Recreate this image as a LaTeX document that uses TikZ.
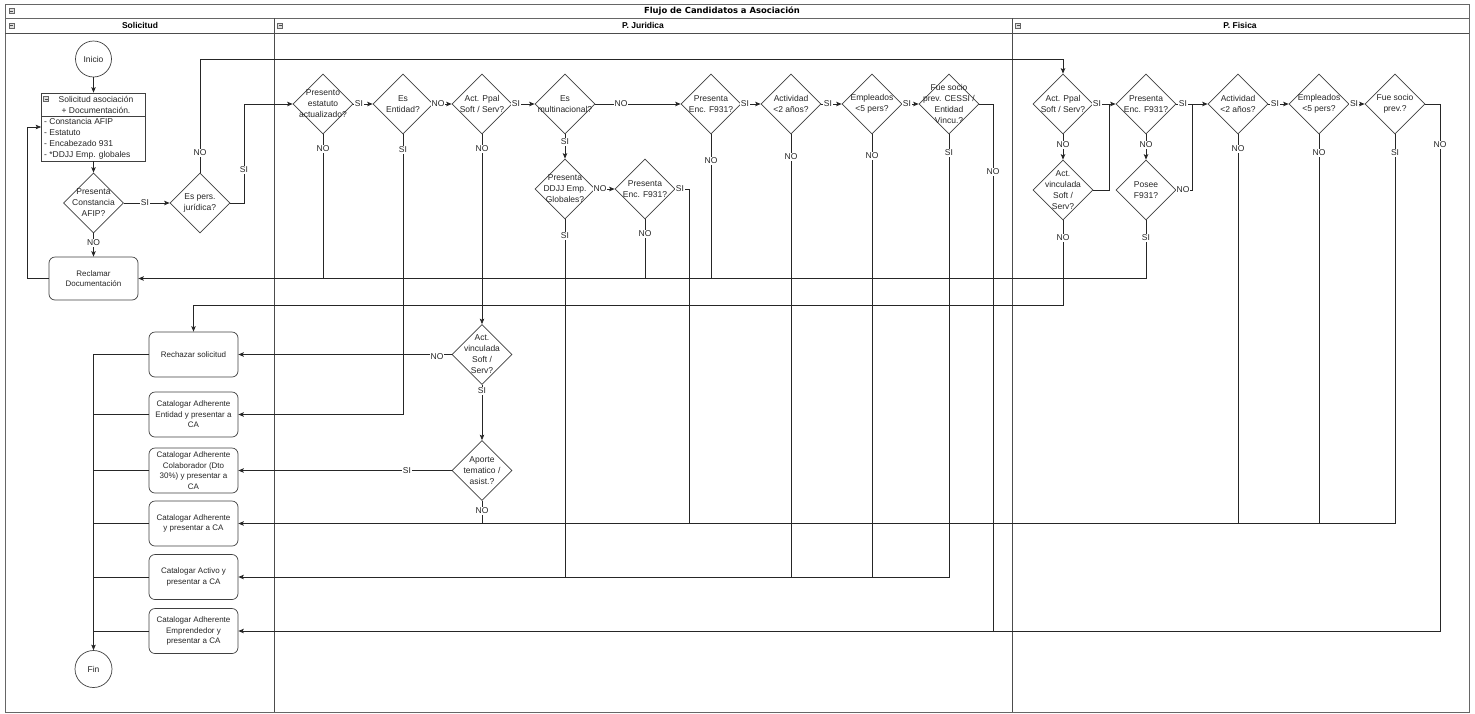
\documentclass[tikz,border=0pt]{standalone}
\usepackage{fontspec}
\setmainfont{Liberation Sans}
\newfontfamily\titlefont{DejaVu Sans}
\usetikzlibrary{shapes.geometric,arrows.meta,calc}
\tikzset{
 lane/.style={draw=black!70, line width=0.8pt},
 conn/.style={draw=black!85, line width=0.75pt},
 arr/.style={conn, -{Stealth[length=5.5pt,width=4.5pt,inset=1.2pt]}},
 dia/.style={draw=black!75, line width=0.7pt, diamond, minimum width=60pt, minimum height=60pt, inner sep=0pt, fill=white},
 dtx/.style={align=center, font=\fontsize{8.5}{11}\selectfont, inner sep=0pt, text=black!85},
 box/.style={draw=black!75, line width=0.7pt, rounded corners=6pt, minimum width=89pt, minimum height=45pt, align=center, font=\fontsize{8}{10.5}\selectfont, inner sep=1pt, fill=white, text=black!85},
 circ/.style={draw=black!75, line width=0.7pt, circle, minimum size=36pt, inner sep=0pt, font=\fontsize{8.5}{11}\selectfont, fill=white, text=black!85},
 lbl/.style={fill=white, inner sep=0.6pt, font=\fontsize{8.5}{10}\selectfont, text=black!85},
 hdr/.style={font=\fontsize{8.5}{10}\selectfont\bfseries, inner sep=0pt},
 mini/.style={draw=black!60, fill=black!12, minimum size=5pt, inner sep=0pt, line width=0.4pt,
   path picture={\draw[black!70, line width=0.5pt] ([xshift=1pt]path picture bounding box.west) -- ([xshift=-1pt]path picture bounding box.east);}},
}
\newcommand\Dia[3]{\node[dia] (#1) at (#2) {}; \node[dtx] (#1t) at (#1) {#3};}
\newcommand\Lbl[3]{\node[lbl] (#1) at (#2) {#3};}
\begin{document}
\begin{tikzpicture}[x=1pt,y=-1pt]
\useasboundingbox (0,0) rectangle (1475,713);
% ---------- pool and lanes ----------
\draw[lane, draw=black!60, line width=1pt] (5,4) rectangle (1469,712);
\draw[lane, draw=black!60] (5,18) -- (1469,18);
\draw[lane] (5,33) -- (1469,33);
\draw[lane] (274,18) -- (274,712);
\draw[lane] (1012,18) -- (1012,712);
\node[font=\titlefont\fontsize{8.4}{10}\selectfont\bfseries, inner sep=0pt] (title) at (722,11) {Flujo de Candidatos a Asociación};
\node[hdr] (h1) at (140,25.5) {Solicitud};
\node[hdr] (h2) at (643,25.5) {P. Juridica};
\node[hdr] (h3) at (1240,25.5) {P. Fisica};
\node[mini] (m0) at (11.5,11) {};
\node[mini] (m1) at (11.5,25.5) {};
\node[mini] (m2) at (280,25.5) {};
\node[mini] (m3) at (1018,25.5) {};
% ---------- Solicitud lane ----------
\node[circ] (ini) at (93.5,59) {Inicio};
\node[draw=black!75, line width=0.7pt, minimum width=104pt, minimum height=68pt, inner sep=0pt] (sol) at (93.5,127) {};
\draw[black!75, line width=0.7pt] (41.5,116) -- (145.5,116);
\node[mini] (m4) at (46,99) {};
\node[dtx, font=\fontsize{8.5}{11}\selectfont] (solh) at (96,104.5) {Solicitud asociación\\+ Documentación.};
\node[dtx, align=left, anchor=west] (soli) at (44,139) {- Constancia AFIP\\- Estatuto\\- Encabezado 931\\- *DDJJ Emp. globales};
\Dia{dafip}{93.5,203}{Presenta\\Constancia\\AFIP?}
\Dia{dpers}{200,203}{Es pers.\\jurídica?}
\node[box, minimum height=43pt] (recl) at (93.5,278.5) {Reclamar\\Documentación};
\node[box] (rech) at (193.5,354.5) {Rechazar solicitud};
\node[box] (ent) at (193.5,414.5) {Catalogar Adherente\\Entidad y presentar a\\CA};
\node[box] (col) at (193.5,470.5) {Catalogar Adherente\\Colaborador (Dto\\30\%) y presentar a\\CA};
\node[box] (adh) at (193.5,523.5) {Catalogar Adherente\\y presentar a CA};
\node[box] (act) at (193.5,577) {Catalogar Activo y\\presentar a CA};
\node[box] (emp) at (193.5,631) {Catalogar Adherente\\Emprendedor y\\presentar a CA};
\node[circ, minimum size=37pt] (fin) at (93.5,669) {Fin};
% ---------- P. Juridica lane ----------
\Dia{d1}{323,104}{Presento\\estatuto\\actualizado?}
\Dia{d2}{403,104}{Es\\Entidad?}
\Dia{d3}{482,104}{Act. Ppal\\Soft / Serv?}
\Dia{d4}{565,104}{Es\\multinacional?}
\Dia{d5}{711,104}{Presenta\\Enc. F931?}
\Dia{d6}{791,104}{Actividad\\<2 años?}
\Dia{d7}{872,104}{Empleados\\<5 pers?}
\Dia{d8}{949,104}{Fue socio\\prev. CESSI /\\Entidad\\Vincu.?}
\Dia{d9}{565,189}{Presenta\\DDJJ Emp.\\Globales?}
\Dia{d10}{645,189}{Presenta\\Enc. F931?}
\Dia{d11}{482,354.5}{Act.\\vinculada\\Soft /\\Serv?}
\Dia{d12}{482,470.5}{Aporte\\tematico /\\asist.?}
% ---------- P. Fisica lane ----------
\Dia{f1}{1063,104}{Act. Ppal\\Soft / Serv?}
\Dia{f1b}{1063,190}{Act.\\vinculada\\Soft /\\Serv?}
\Dia{f2}{1146,104}{Presenta\\Enc. F931?}
\Dia{f2b}{1146,190}{Posee\\F931?}
\Dia{f3}{1238,104}{Actividad\\<2 años?}
\Dia{f4}{1319,104}{Empleados\\<5 pers?}
\Dia{f5}{1395,104}{Fue socio\\prev.?}
% ---------- bend points ----------
\coordinate (lp) at (27,127);
\coordinate (tp) at (200,59);
\coordinate (sp) at (244,104);
\coordinate (d10r) at (689,189);
\coordinate (d8r) at (993,104);
\coordinate (f5r) at (1440,104);
\coordinate (fj1) at (1109,104);
\coordinate (fj2) at (1192,104);
\coordinate (fr) at (1063,305);
% ---------- connectors ----------
\draw[arr] (ini) -- (sol);
\draw[arr] (sol) -- (dafip);
\draw[arr] (dafip) -- (dpers);
\draw[arr] (dafip) -- (recl);
\draw[arr] (recl.west) -| (lp) -- (sol.west);
\draw[arr] (dpers.north) -- (tp) -| (f1.north);
\draw[arr] (dpers.east) -| (sp) -- (d1.west);
\draw[arr] (d1) -- (d2);
\draw[arr] (d2) -- (d3);
\draw[arr] (d3) -- (d4);
\draw[arr] (d4) -- (d5);
\draw[arr] (d5) -- (d6);
\draw[arr] (d6) -- (d7);
\draw[arr] (d7) -- (d8);
\draw[conn] (d1.south) -- (d1.south |- recl.east);
\draw[arr] (d2.south) |- (ent.east);
\draw[arr] (d3) -- (d11);
\draw[arr] (d4) -- (d9);
\draw[arr] (d9) -- (d10);
\draw[conn] (d9.south) -- (d9.south |- act.east);
\draw[conn] (d10.south) -- (d10.south |- recl.east);
\draw[conn] (d10.east) -- (d10r) -- (d10r |- adh.east);
\draw[conn] (d5.south) -- (d5.south |- recl.east);
\draw[conn] (d6.south) -- (d6.south |- act.east);
\draw[conn] (d7.south) -- (d7.south |- act.east);
\draw[arr] (d8.south) |- (act.east);
\draw[conn] (d8.east) -- (d8r) -- (d8r |- emp.east);
\draw[arr] (d11) -- (rech);
\draw[arr] (d11) -- (d12);
\draw[arr] (d12) -- (col);
\draw[conn] (d12.south) -- (d12.south |- adh.east);
\draw[arr] (f1) -- (f2);
\draw[arr] (f2) -- (f3);
\draw[arr] (f3) -- (f4);
\draw[arr] (f4) -- (f5);
\draw[arr] (f1) -- (f1b);
\draw[arr] (f2) -- (f2b);
\draw[conn] (f1b.east) -| (fj1);
\draw[conn] (f2b.east) -| (fj2);
\draw[arr] (f1b.south) -- (fr) -| (rech.north);
\draw[arr] (f2b.south) |- (recl.east);
\draw[conn] (f3.south) -- (f3.south |- adh.east);
\draw[conn] (f4.south) -- (f4.south |- adh.east);
\draw[arr] (f5.south) |- (adh.east);
\draw[arr] (f5.east) -- (f5r) |- (emp.east);
\draw[arr] (rech.west) -| (fin.north);
\draw[conn] (ent.west) -- (ent.west -| fin.north);
\draw[conn] (col.west) -- (col.west -| fin.north);
\draw[conn] (adh.west) -- (adh.west -| fin.north);
\draw[conn] (act.west) -- (act.west -| fin.north);
\draw[conn] (emp.west) -- (emp.west -| fin.north);
% ---------- edge labels ----------
\Lbl{l1}{145,203}{SI}
\Lbl{l2}{93.5,243}{NO}
\Lbl{l3}{200,153}{NO}
\Lbl{l4}{244,170}{SI}
\Lbl{l5}{359,104}{SI}
\Lbl{l6}{438,104}{NO}
\Lbl{l7}{516,104}{SI}
\Lbl{l8}{621,104}{NO}
\Lbl{l9}{745,104}{SI}
\Lbl{l10}{828,104}{SI}
\Lbl{l11}{907,104}{SI}
\Lbl{l12}{323,149}{NO}
\Lbl{l13}{403,150}{SI}
\Lbl{l14}{482,149}{NO}
\Lbl{l15}{565,142}{SI}
\Lbl{l16}{711,161}{NO}
\Lbl{l17}{791,157}{NO}
\Lbl{l18}{872,156}{NO}
\Lbl{l19}{949,153}{SI}
\Lbl{l20}{993,172}{NO}
\Lbl{l21}{600,189}{NO}
\Lbl{l22}{565,236}{SI}
\Lbl{l23}{645,234}{NO}
\Lbl{l24}{680,189}{SI}
\Lbl{l25}{437,357}{NO}
\Lbl{l26}{482,391}{SI}
\Lbl{l27}{407,470.5}{SI}
\Lbl{l28}{482,511}{NO}
\Lbl{l29}{1097,104}{SI}
\Lbl{l30}{1063,145}{NO}
\Lbl{l31}{1063,238}{NO}
\Lbl{l32}{1183,104}{SI}
\Lbl{l33}{1146,145}{NO}
\Lbl{l34}{1183,190}{NO}
\Lbl{l35}{1146,238}{SI}
\Lbl{l36}{1275,104}{SI}
\Lbl{l37}{1238,149}{NO}
\Lbl{l38}{1354,104}{SI}
\Lbl{l39}{1319,153}{NO}
\Lbl{l40}{1395,153}{SI}
\Lbl{l41}{1440,145}{NO}
\end{tikzpicture}
\end{document}
